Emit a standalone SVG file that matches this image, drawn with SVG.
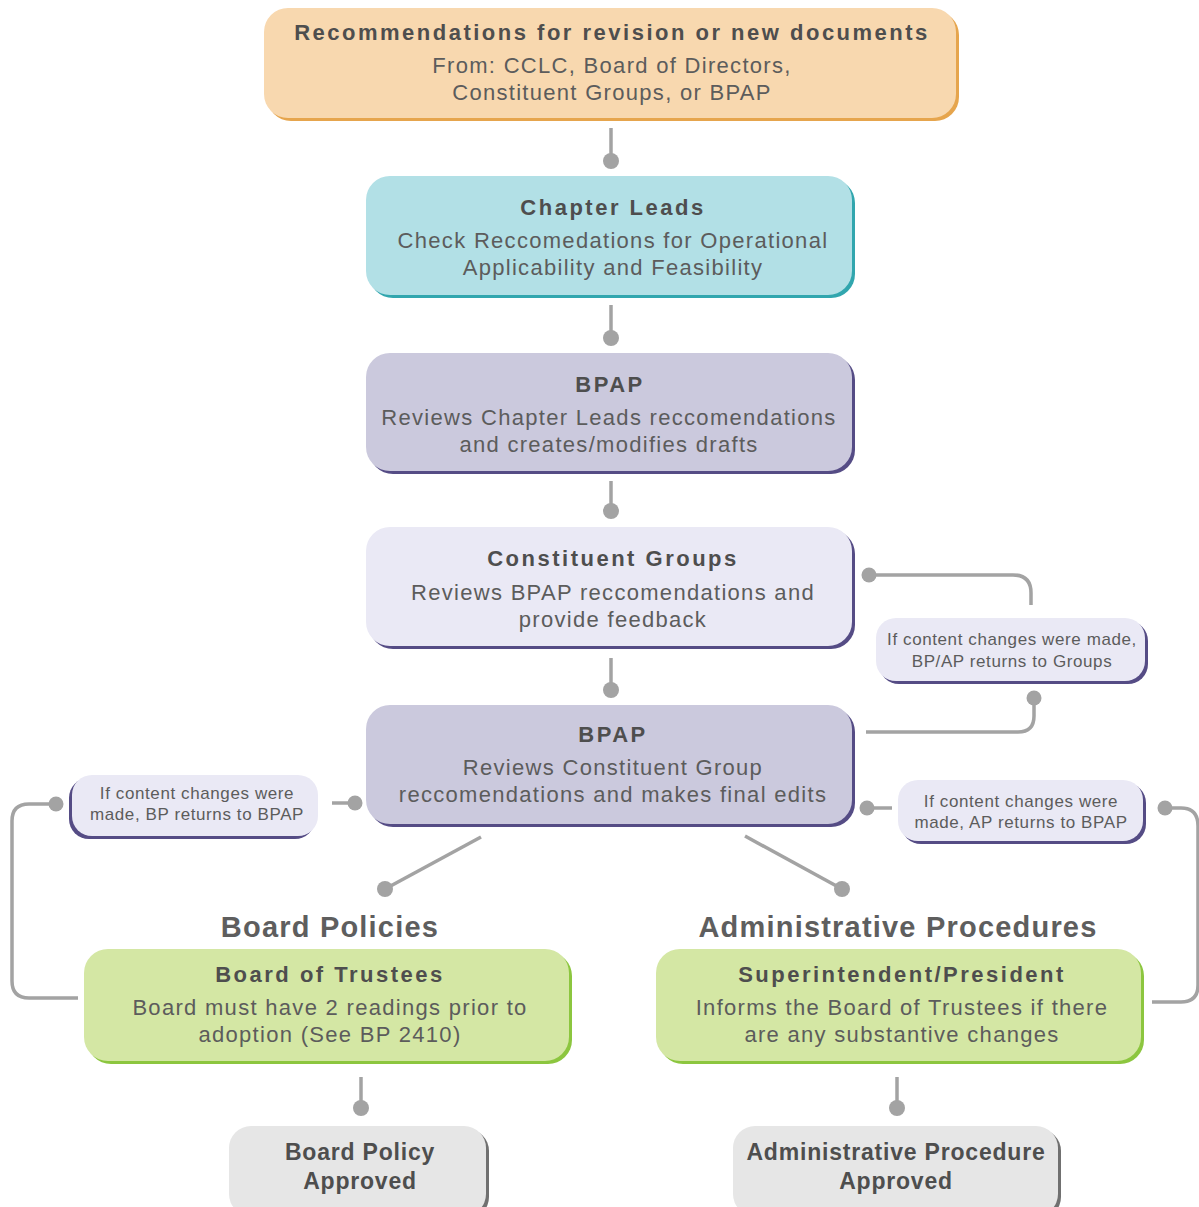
<svg xmlns="http://www.w3.org/2000/svg" width="1199" height="1207" viewBox="0 0 1199 1207">
<style>
text{font-family:"Liberation Sans",Arial,sans-serif;text-anchor:middle}
.t{font-weight:bold;font-size:22px;letter-spacing:2.5px;fill:#4e4e4e}
.b{font-size:22px;letter-spacing:1.3px;fill:#5c5c5c}
.n{font-size:17px;letter-spacing:0.6px;fill:#5c5c5c}
.h{font-weight:bold;font-size:29px;letter-spacing:1.2px;fill:#5e5e5e}
.a{font-weight:bold;font-size:23px;letter-spacing:0.8px;fill:#4e4e4e}
.c{fill:none;stroke:#a3a3a3;stroke-width:3.5}
.d{fill:#a3a3a3}
</style>
<rect width="1199" height="1207" fill="#ffffff"/>
<g id="connectors">
<path class="c" d="M611 128V158"/><circle class="d" cx="611" cy="161" r="8"/>
<path class="c" d="M611 305V335"/><circle class="d" cx="611" cy="338" r="8"/>
<path class="c" d="M611 481V508"/><circle class="d" cx="611" cy="511" r="8"/>
<path class="c" d="M611 658V687"/><circle class="d" cx="611" cy="690" r="8"/>
<path class="c" d="M869 575H1013Q1031 575 1031 593V605"/><circle class="d" cx="869" cy="575" r="7.5"/>
<path class="c" d="M1034 698V716Q1034 732 1018 732H866"/><circle class="d" cx="1034" cy="698" r="7.5"/>
<path class="c" d="M867 808H892"/><circle class="d" cx="867" cy="808" r="7.5"/>
<path class="c" d="M1165 808H1181Q1198 808 1198 826V985Q1198 1002 1181 1002H1152"/><circle class="d" cx="1165" cy="808" r="7.5"/>
<path class="c" d="M332 803H354"/><circle class="d" cx="355" cy="803" r="7.5"/>
<path class="c" d="M56 804H29Q12 804 12 821V981Q12 998 29 998H78"/><circle class="d" cx="56" cy="804" r="7.5"/>
<path class="c" d="M481 837L385 889"/><circle class="d" cx="385" cy="889" r="8"/>
<path class="c" d="M745 836L842 889"/><circle class="d" cx="842" cy="889" r="8"/>
<path class="c" d="M361 1077V1105"/><circle class="d" cx="361" cy="1108" r="8"/>
<path class="c" d="M897 1077V1105"/><circle class="d" cx="897" cy="1108" r="8"/>
</g>
<g id="recommendations">
<rect x="267" y="11" width="692" height="110" rx="24" fill="#e6a54d"/>
<rect x="264" y="8" width="692" height="110" rx="24" fill="#f8d8af"/>
<text class="t" x="612" y="40">Recommendations for revision or new documents</text>
<text class="b" x="612" y="73">From: CCLC, Board of Directors,</text>
<text class="b" x="612" y="100">Constituent Groups, or BPAP</text>
</g>
<g id="chapter-leads">
<rect x="369" y="179" width="486" height="119" rx="24" fill="#31a6ae"/>
<rect x="366" y="176" width="486" height="119" rx="24" fill="#b2e0e6"/>
<text class="t" x="613" y="215">Chapter Leads</text>
<text class="b" x="613" y="248">Check Reccomedations for Operational</text>
<text class="b" x="613" y="275">Applicability and Feasibility</text>
</g>
<g id="bpap-1">
<rect x="369" y="356" width="486" height="118" rx="24" fill="#554c85"/>
<rect x="366" y="353" width="486" height="118" rx="24" fill="#cbc9dd"/>
<text class="t" x="610" y="392">BPAP</text>
<text class="b" x="609" y="425">Reviews Chapter Leads reccomendations</text>
<text class="b" x="609" y="452">and creates/modifies drafts</text>
</g>
<g id="constituent-groups">
<rect x="369" y="530" width="486" height="119" rx="24" fill="#554c85"/>
<rect x="366" y="527" width="486" height="119" rx="24" fill="#eae9f5"/>
<text class="t" x="613" y="566">Constituent Groups</text>
<text class="b" x="613" y="600">Reviews BPAP reccomendations and</text>
<text class="b" x="613" y="627">provide feedback</text>
</g>
<g id="bpap-2">
<rect x="369" y="708" width="486" height="119" rx="24" fill="#554c85"/>
<rect x="366" y="705" width="486" height="119" rx="24" fill="#cbc9dd"/>
<text class="t" x="613" y="742">BPAP</text>
<text class="b" x="613" y="775">Reviews Constituent Group</text>
<text class="b" x="613" y="802">reccomendations and makes final edits</text>
</g>
<g id="note-groups">
<rect x="879" y="621" width="269" height="63" rx="20" fill="#554c85"/>
<rect x="876" y="618" width="269" height="63" rx="20" fill="#eae9f5"/>
<text class="n" x="1012" y="645">If content changes were made,</text>
<text class="n" x="1012" y="667">BP/AP returns to Groups</text>
</g>
<g id="note-ap">
<rect x="901" y="783" width="245" height="61" rx="20" fill="#554c85"/>
<rect x="898" y="780" width="245" height="61" rx="20" fill="#eae9f5"/>
<text class="n" x="1021" y="807">If content changes were</text>
<text class="n" x="1021" y="828">made, AP returns to BPAP</text>
</g>
<g id="note-bp">
<rect x="69" y="778" width="246" height="61" rx="20" fill="#554c85"/>
<rect x="72" y="775" width="246" height="61" rx="20" fill="#eae9f5"/>
<text class="n" x="197" y="799">If content changes were</text>
<text class="n" x="197" y="820">made, BP returns to BPAP</text>
</g>
<g id="board-policies-heading">
<text class="h" x="330" y="937">Board Policies</text>
</g>
<g id="administrative-procedures-heading">
<text class="h" x="898" y="937">Administrative Procedures</text>
</g>
<g id="board-of-trustees">
<rect x="87" y="952" width="485" height="112" rx="24" fill="#8cc63f"/>
<rect x="84" y="949" width="485" height="112" rx="24" fill="#d4e7a4"/>
<text class="t" x="330" y="982">Board of Trustees</text>
<text class="b" x="330" y="1015">Board must have 2 readings prior to</text>
<text class="b" x="330" y="1042">adoption (See BP 2410)</text>
</g>
<g id="superintendent">
<rect x="659" y="952" width="485" height="112" rx="24" fill="#8cc63f"/>
<rect x="656" y="949" width="485" height="112" rx="24" fill="#d4e7a4"/>
<text class="t" x="902" y="982">Superintendent/President</text>
<text class="b" x="902" y="1015">Informs the Board of Trustees if there</text>
<text class="b" x="902" y="1042">are any substantive changes</text>
</g>
<g id="board-policy-approved">
<rect x="232" y="1129" width="257" height="90" rx="22" fill="#707070"/>
<rect x="229" y="1126" width="257" height="90" rx="22" fill="#e6e6e6"/>
<text class="a" x="360" y="1160">Board Policy</text>
<text class="a" x="360" y="1189">Approved</text>
</g>
<g id="administrative-procedure-approved">
<rect x="736" y="1129" width="325" height="90" rx="22" fill="#707070"/>
<rect x="733" y="1126" width="325" height="90" rx="22" fill="#e6e6e6"/>
<text class="a" x="896" y="1160">Administrative Procedure</text>
<text class="a" x="896" y="1189">Approved</text>
</g>
</svg>
